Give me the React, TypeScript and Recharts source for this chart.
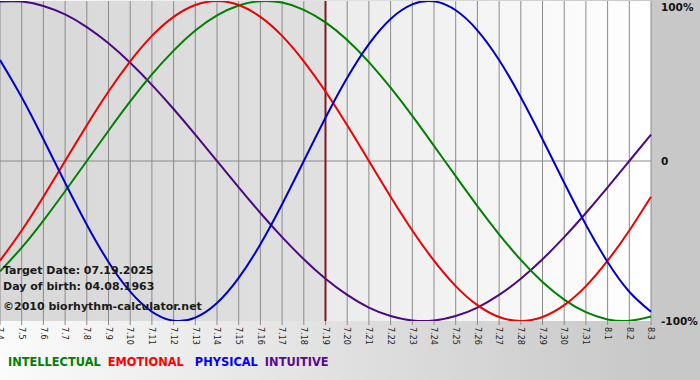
import React from 'react';
import { LineChart, Line, XAxis, YAxis, ReferenceLine, ReferenceArea } from 'recharts';

// days shown on the axis (month.day)
const days = [
  '7.4', '7.5', '7.6', '7.7', '7.8', '7.9', '7.10', '7.11', '7.12', '7.13', '7.14',
  '7.15', '7.16', '7.17', '7.18', '7.19', '7.20', '7.21', '7.22', '7.23', '7.24',
  '7.25', '7.26', '7.27', '7.28', '7.29', '7.30', '7.31', '8.1', '8.2', '8.3',
];

const physical = [
  63.1, 39.8, 13.6, -13.6, -39.8, -63.1, -81.7, -94.2, -99.8, -97.9, -88.8,
  -73.1, -52.0, -27.0, 0, 27.0, 52.0, 73.1, 88.8, 97.9, 99.8,
  94.2, 81.7, 63.1, 39.8, 13.6, -13.6, -39.8, -63.1, -81.7, -94.2,
];

const emotional = [
  -62.3, -43.4, -22.3, 0, 22.3, 43.4, 62.3, 78.2, 90.1, 97.5, 100,
  97.5, 90.1, 78.2, 62.3, 43.4, 22.3, 0, -22.3, -43.4, -62.3,
  -78.2, -90.1, -97.5, -100, -97.5, -90.1, -78.2, -62.3, -43.4, -22.3,
];

const intellectual = [
  -69.0, -54.1, -37.2, -18.9, 0, 18.9, 37.2, 54.1, 69.0, 81.5, 91.0,
  97.2, 99.9, 99.0, 94.5, 86.6, 75.6, 61.8, 45.8, 28.2, 9.5,
  -9.5, -28.2, -45.8, -61.8, -75.6, -86.6, -94.5, -99.0, -99.9, -97.2,
];

const intuitive = [
  99.7, 99.7, 96.9, 91.6, 83.7, 73.6, 61.4, 47.6, 32.5, 16.5, 0,
  -16.5, -32.5, -47.6, -61.4, -73.6, -83.7, -91.6, -96.9, -99.7, -99.7,
  -96.9, -91.6, -83.7, -73.6, -61.4, -47.6, -32.5, -16.5, 0, 16.5,
];

const yTicks = [100, 0, -100];
const targetDay = '7.19';

const data = days.map((d, i) => ({
  d,
  physical: physical[i],
  emotional: emotional[i],
  intellectual: intellectual[i],
  intuitive: intuitive[i],
}));

const FONT = '"DejaVu Sans", Verdana, sans-serif';

const DateTick = ({ x, y, payload }: any) => (
  <text
    x={x}
    y={y}
    dy="0.35em"
    transform={`rotate(90 ${x} ${y})`}
    textAnchor="start"
    fontFamily={FONT}
    fontSize={8}
    fill="#222"
  >
    {payload.value}
  </text>
);

const PctTick = ({ x, y, payload }: any) => {
  const v = payload.value;
  const label = v === 0 ? '0' : `${v}%`;
  return (
    <text
      x={x + 2}
      y={v === 100 ? y + 6 : y}
      dy="0.35em"
      fontFamily={FONT}
      fontSize={10.5}
      fontWeight="bold"
      fill="#111"
    >
      {label}
    </text>
  );
};

const textStyle: React.CSSProperties = {
  position: 'absolute',
  left: 3,
  fontFamily: FONT,
  fontSize: 11,
  fontWeight: 'bold',
  color: '#1a1a1a',
  whiteSpace: 'nowrap',
  lineHeight: '13px',
};

const legend = [
  { name: 'INTELLECTUAL', color: '#008000', gap: 7 },
  { name: 'EMOTIONAL', color: '#ff0000', gap: 11 },
  { name: 'PHYSICAL', color: '#0000ff', gap: 7 },
  { name: 'INTUITIVE', color: '#5a0a90', gap: 0 },
];

export default function App() {
  return (
    <div
      style={{
        position: 'absolute',
        left: 0,
        top: 0,
        width: 700,
        height: 380,
        background: 'linear-gradient(to right, #fbfbfb 0%, #c8c8c8 93%, #c8c8c8 100%)',
        overflow: 'hidden',
      }}
    >
      <LineChart width={700} height={380} data={data} margin={{ top: 1, right: 0, left: 0, bottom: 0 }}>
        <defs>
          <linearGradient id="pastBg" x1="0" y1="0" x2="1" y2="0">
            <stop offset="0%" stopColor="#d8d8d8" />
            <stop offset="100%" stopColor="#e0e0e0" />
          </linearGradient>
          <linearGradient id="futureBg" x1="0" y1="0" x2="1" y2="0">
            <stop offset="0%" stopColor="#ebebeb" />
            <stop offset="100%" stopColor="#ffffff" />
          </linearGradient>
        </defs>
        <ReferenceArea x1="7.4" x2={targetDay} fill="url(#pastBg)" fillOpacity={1} ifOverflow="visible" />
        <ReferenceArea x1={targetDay} x2="8.3" fill="url(#futureBg)" fillOpacity={1} ifOverflow="visible" />
        {days.map((d) => (
          <ReferenceLine key={d} x={d} stroke="#8a8a8a" strokeWidth={1} />
        ))}
        <XAxis
          dataKey="d"
          interval={0}
          padding={{ left: 0, right: 0 }}
          height={59}
          axisLine={false}
          tickLine={{ stroke: '#8a8a8a' }}
          tickSize={4}
          tickMargin={2}
          tick={<DateTick />}
        />
        <YAxis
          orientation="right"
          width={49}
          domain={[-100, 100]}
          ticks={yTicks}
          interval={0}
          axisLine={false}
          tickLine={false}
          tick={<PctTick />}
          allowDataOverflow
        />
        <ReferenceLine y={0} stroke="#8a8a8a" strokeWidth={1} />
        <ReferenceLine x={targetDay} stroke="#7a1c1c" strokeWidth={2} />
        <Line type="natural" dataKey="intuitive" stroke="#4b0a82" strokeWidth={2} dot={false} isAnimationActive={false} />
        <Line type="natural" dataKey="intellectual" stroke="#008000" strokeWidth={2} dot={false} isAnimationActive={false} />
        <Line type="natural" dataKey="emotional" stroke="#ee0000" strokeWidth={2} dot={false} isAnimationActive={false} />
        <Line type="natural" dataKey="physical" stroke="#0000cc" strokeWidth={2} dot={false} isAnimationActive={false} />
      </LineChart>
      <div style={{ ...textStyle, top: 264 }}>Target Date: 07.19.2025</div>
      <div style={{ ...textStyle, top: 280 }}>Day of birth: 04.08.1963</div>
      <div style={{ ...textStyle, top: 300 }}>©2010 biorhythm-calculator.net</div>
      <div
        style={{
          position: 'absolute',
          left: 8,
          top: 355,
          fontFamily: FONT,
          fontSize: 11.4,
          fontWeight: 'bold',
          whiteSpace: 'nowrap',
        }}
      >
        {legend.map((l) => (
          <span key={l.name} style={{ color: l.color, marginRight: l.gap }}>
            {l.name}
          </span>
        ))}
      </div>
    </div>
  );
}
